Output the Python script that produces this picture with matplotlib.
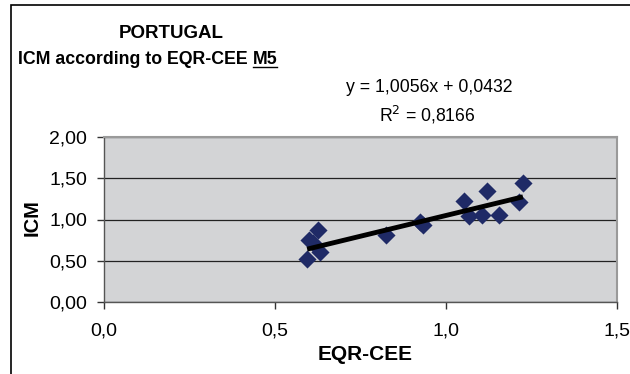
import matplotlib
matplotlib.use('Agg')
import matplotlib.pyplot as plt
from matplotlib.patches import Rectangle
from matplotlib.lines import Line2D
from matplotlib.ticker import FuncFormatter

plt.rcParams['font.family'] = ['Liberation Sans', 'DejaVu Sans']

# ── Data ──────────────────────────────────────────────────────────────────────
eqr_cee = [0.594, 0.598, 0.610, 0.625, 0.632, 0.825, 0.925, 0.933,
           1.053, 1.066, 1.105, 1.120, 1.154, 1.212, 1.225]
icm     = [0.518, 0.750, 0.720, 0.873, 0.606, 0.810, 0.973, 0.933,
           1.228, 1.042, 1.055, 1.340, 1.055, 1.216, 1.446]
slope, intercept, r2 = 1.0056, 0.0432, 0.8166
x_ticks = [0.0, 0.5, 1.0, 1.5]
y_ticks = [0.0, 0.5, 1.0, 1.5, 2.0]

comma = lambda d: FuncFormatter(lambda v, _: f'{v:.{d}f}'.replace('.', ','))

# ── Figure ────────────────────────────────────────────────────────────────────
fig = plt.figure(figsize=(6.3, 3.74), dpi=100)
W, H = 630, 374
fig.patches.append(Rectangle((11 / W, -0.1), 1.2, (H - 5) / H + 0.1,
                             transform=fig.transFigure, fill=False,
                             edgecolor='black', linewidth=1.2))

ax = fig.add_axes([104 / W, (H - 302) / H, (617 - 104) / W, (302 - 137) / H])
ax.set_facecolor('#D3D4D6')
ax.set_xlim(0, 1.5)
ax.set_ylim(0, 2.0)
ax.set_xticks(x_ticks)
ax.set_yticks(y_ticks)
ax.xaxis.set_major_formatter(comma(1))
ax.yaxis.set_major_formatter(comma(2))
ax.grid(axis='y', color='#222222', linewidth=0.9)
ax.set_axisbelow(True)
for s in ['top', 'right']:
    ax.spines[s].set_color('#9A9A9A')
    ax.spines[s].set_linewidth(1.5)
for s in ['left', 'bottom']:
    ax.spines[s].set_color('#555555')
    ax.spines[s].set_linewidth(1.0)
ax.tick_params(direction='out', length=5, width=1, color='#333333',
               labelsize=14)
ax.tick_params(axis='y', pad=7)
ax.tick_params(axis='x', pad=10)

ax.scatter(eqr_cee, icm, marker='D', s=85, color='#1F2A66', zorder=3,
           linewidths=0)
xs = [min(eqr_cee), max(eqr_cee)]
ax.plot(xs, [slope * v + intercept for v in xs], color='black', lw=3.5,
        solid_capstyle='butt', zorder=4)

ax.set_xlabel('EQR-CEE', fontweight='bold', fontsize=15)
ax.set_ylabel('ICM', fontweight='bold', fontsize=14.5)
ax.xaxis.set_label_coords(0.509, -0.32)
ax.yaxis.set_label_coords(-0.14, 0.51)
ax.xaxis.label.set_va('center')
ax.yaxis.label.set_va('center')

# ── Titles & equation ─────────────────────────────────────────────────────────
fig.text(171 / W, 1 - 33 / H, 'PORTUGAL', fontweight='bold', fontsize=13.5,
         ha='center', va='center')
t = fig.text(18 / W, 1 - 60 / H, 'ICM according to EQR-CEE ', fontweight='bold',
             fontsize=12.8, ha='left', va='center')
fig.canvas.draw()
r = fig.canvas.get_renderer()
bb = t.get_window_extent(r)
m5 = fig.text(bb.x1 / W, 1 - 60 / H, 'M5', fontweight='bold', fontsize=12.8,
              ha='left', va='center')
fig.canvas.draw()
bb2 = m5.get_window_extent(r)
uy = (bb2.y0 + 2) / H
fig.lines.append(Line2D([bb2.x0 / W, bb2.x1 / W], [uy, uy], color='black',
                        lw=1.0, transform=fig.transFigure))

eq = f'y = {slope:.4f}x + {intercept:.4f}'.replace('.', ',')
fig.text(513 / W, 1 - 88 / H, eq, fontsize=12.7, ha='right', va='center')
fig.text(475 / W, 1 - 115 / H, f'R$^2$ = {r2:.4f}'.replace('.', ','),
         fontsize=12.7, ha='right', va='center')

fig.savefig('out.png', dpi=100)
